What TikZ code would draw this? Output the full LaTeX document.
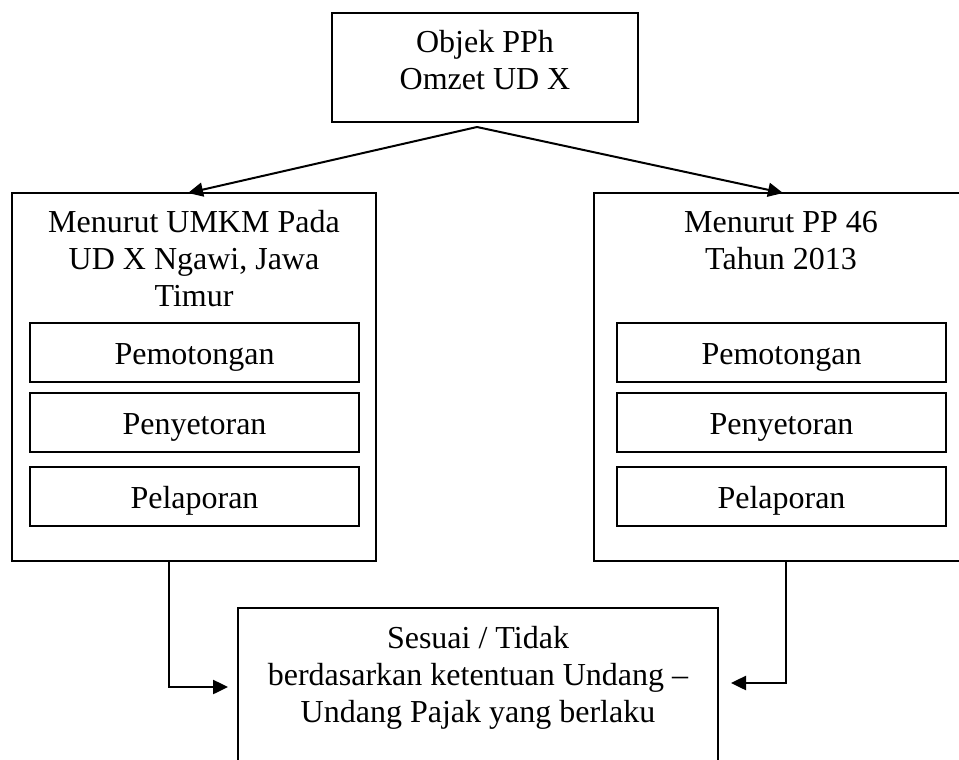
\documentclass[tikz,border=0pt]{standalone}
\usepackage{fontspec}
\setmainfont{Liberation Serif}
\usetikzlibrary{arrows.meta,calc}
\begin{document}
\begin{tikzpicture}[x=0.5pt,y=-0.5pt,
  box/.style={draw, line width=0.8pt, inner sep=0pt},
  subbox/.style={draw, line width=1pt, minimum width=164.5pt, minimum height=29.5pt, inner sep=0pt, text height=12pt, text depth=0pt, font=\fontsize{16}{18.5}\selectfont},
  lbl/.style={align=center, inner sep=0pt, anchor=base, font=\fontsize{16}{18.5}\selectfont},
  arr/.style={line width=1.25pt, -{Triangle[length=7.5pt,width=7pt]}},
  diag/.style={line width=1pt, -{Triangle[length=7.5pt,width=7pt]}}]
\useasboundingbox (0,0) rectangle (959,760);
\clip (0,0) rectangle (959,760);
% boxes
\node[box, minimum width=153pt, minimum height=54.5pt] (top) at (485,67.5) {};
\node[lbl] (toptxt) at (485,89) {Objek PPh\\Omzet UD X};
\node[box, minimum width=182pt, minimum height=184pt] (left) at (194,377) {};
\node[lbl] (lefttxt) at (194,306) {Menurut UMKM Pada\\UD X Ngawi, Jawa\\Timur};
\node[box, minimum width=203pt, minimum height=184pt] (right) at (797,377) {};
\node[lbl] (righttxt) at (781,269) {Menurut PP 46\\Tahun 2013};
\node[subbox] (l1) at (194.5,352.5) {Pemotongan};
\node[subbox] (l2) at (194.5,422) {Penyetoran};
\node[subbox] (l3) at (194.5,496) {Pelaporan};
\node[subbox] (r1) at (781.5,352.5) {Pemotongan};
\node[subbox] (r2) at (781.5,422) {Penyetoran};
\node[subbox] (r3) at (781.5,496) {Pelaporan};
\node[box, minimum width=240pt, minimum height=96pt] (bottom) at (478,704) {};
\node[lbl] (bottomtxt) at (478,722) {Sesuai / Tidak\\berdasarkan ketentuan Undang --\\Undang Pajak yang berlaku};
% connectors
\coordinate (apex) at (477,127);
\coordinate (tL) at (188,193);
\coordinate (tR) at (783,193);
\draw[diag] (apex) -- (tL);
\draw[diag] (apex) -- (tR);
\coordinate (lo) at (169,561);
\coordinate (li) at (228,687);
\coordinate (ro) at (786,561);
\coordinate (ri) at (731,683);
\draw[arr] (lo) |- (li);
\draw[arr] (ro) |- (ri);
\end{tikzpicture}
\end{document}
